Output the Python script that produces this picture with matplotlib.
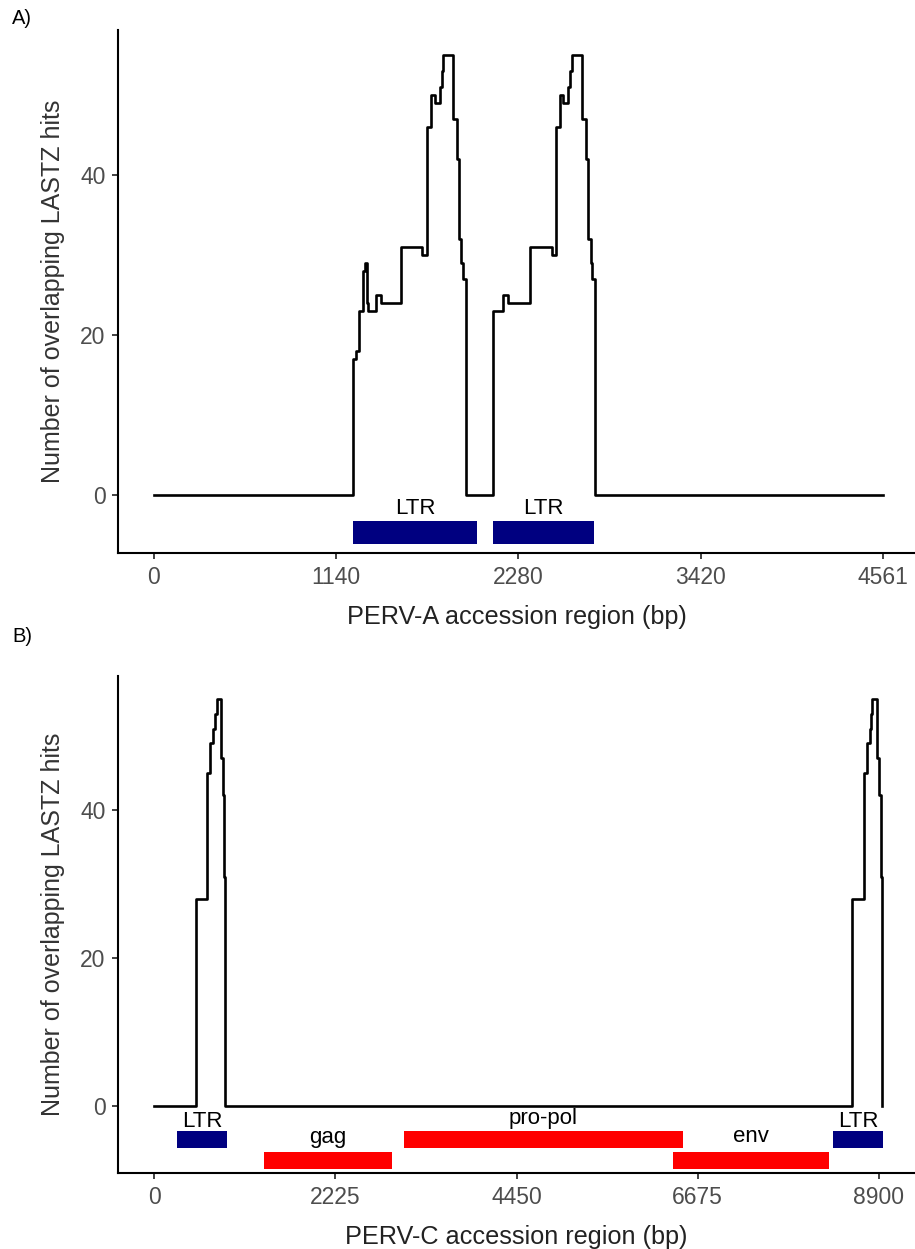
import matplotlib
matplotlib.use("Agg")
import matplotlib.pyplot as plt

plt.rcParams['font.family'] = ['Liberation Sans', 'DejaVu Sans']

# ---- Panel A: PERV-A coverage (step breakpoints, value holds until next x) ----
a_pos = [0, 1247, 1264, 1281, 1310, 1318, 1331, 1341, 1389, 1418, 1545, 1679,
         1708, 1733, 1758, 1789, 1800, 1810, 1873, 1894, 1910, 1921, 1935, 1952,
         2119, 2186, 2217, 2352, 2488, 2515, 2540, 2561, 2592, 2603, 2617, 2676,
         2701, 2717, 2732, 2742, 2757, 4561]
a_hits = [0, 17, 18, 23, 28, 29, 24, 23, 25, 24, 31, 30,
          46, 50, 49, 51, 53, 55, 47, 42, 32, 29, 27, 0,
          23, 25, 24, 31, 30, 46, 50, 49, 51, 53, 55, 47,
          42, 32, 29, 27, 0, 0]
a_ticks = [0, 1140, 2280, 3420, 4561]
a_feat_names = ["LTR", "LTR"]
a_feat_start = [1247, 2123]
a_feat_end = [2023, 2755]
a_feat_row = [0, 0]
a_feat_label_y = [-1.6, -1.6]
a_feat_color = ["#000080", "#000080"]

# ---- Panel B: PERV-C coverage ----
b_pos = [0, 511, 655, 687, 728, 749, 769, 822, 843, 863, 872,
         8565, 8720, 8749, 8790, 8798, 8814, 8880, 8904, 8925, 8933]
b_hits = [0, 28, 45, 49, 51, 53, 55, 47, 42, 31, 0,
          28, 45, 49, 51, 53, 55, 47, 42, 31, 0]
b_ticks = [0, 2225, 4450, 6675, 8900]
b_feat_names = ["LTR", "gag", "pro-pol", "env", "LTR"]
b_feat_start = [287, 1350, 3069, 6375, 8340]
b_feat_end = [896, 2918, 6494, 8289, 8953]
b_feat_row = [0, 1, 0, 1, 0]
b_feat_label_y = [-2.0, -4.2, -1.7, -4.1, -2.0]
b_feat_color = ["#000080", "#FF0000", "#FF0000", "#FF0000", "#000080"]

W, H = 915, 1249
fig = plt.figure(figsize=(W / 100, H / 100), dpi=100)


def frac_box(left_px, top_px, right_px, bottom_px):
    return [left_px / W, 1 - bottom_px / H, (right_px - left_px) / W, (bottom_px - top_px) / H]


def style_axes(ax, ticks, xlabel):
    for s in ("top", "right"):
        ax.spines[s].set_visible(False)
    for s in ("left", "bottom"):
        ax.spines[s].set_linewidth(1.5)
        ax.spines[s].set_color("black")
    ax.set_xticks(ticks)
    ax.set_xticklabels([str(t) for t in ticks])
    ax.set_yticks([0, 20, 40])
    ax.tick_params(axis="both", length=4, width=1.3, color="#333333",
                   labelsize=16.5, labelcolor="#4D4D4D", pad=5)
    ax.set_xlabel(xlabel, fontsize=18.2, color="#222222", labelpad=12)
    ax.set_ylabel("Number of overlapping LASTZ hits", fontsize=18,
                  color="#333333")
    ax.yaxis.set_label_coords(-0.066, 0.5)


def draw_features(ax, names, starts, ends, rows, label_y, colors, row_y, height):
    for n, s, e, r, ly, c in zip(names, starts, ends, rows, label_y, colors):
        ax.barh(row_y[r], e - s, left=s, height=height, color=c, edgecolor="none")
        ax.text((s + e) / 2, ly, n, ha="center", va="center",
                fontsize=16, color="black")


# Panel A
axA = fig.add_axes(frac_box(118, 30, 915, 553))
axA.step(a_pos, a_hits, where="post", color="black", lw=1.9)
draw_features(axA, a_feat_names, a_feat_start, a_feat_end, a_feat_row,
              a_feat_label_y, a_feat_color, row_y=[-4.65], height=2.9)
axA.set_xlim(-225, 4761)
axA.set_ylim(-7.2, 58.1)
style_axes(axA, a_ticks, "PERV-A accession region (bp)")

# Panel B
axB = fig.add_axes(frac_box(118, 676, 915, 1173))
axB.step(b_pos, b_hits, where="post", color="black", lw=1.9)
draw_features(axB, b_feat_names, b_feat_start, b_feat_end, b_feat_row,
              b_feat_label_y, b_feat_color, row_y=[-4.45, -7.3], height=2.24)
axB.set_xlim(-442, 9342)
axB.set_ylim(-9.0, 58.1)
style_axes(axB, b_ticks, "PERV-C accession region (bp)")

fig.text(12 / W, 1 - 18 / H, "A)", fontsize=14.5, ha="left", va="center")
fig.text(12 / W, 1 - 636 / H, "B)", fontsize=14.5, ha="left", va="center")

fig.savefig("out.png", dpi=100)
